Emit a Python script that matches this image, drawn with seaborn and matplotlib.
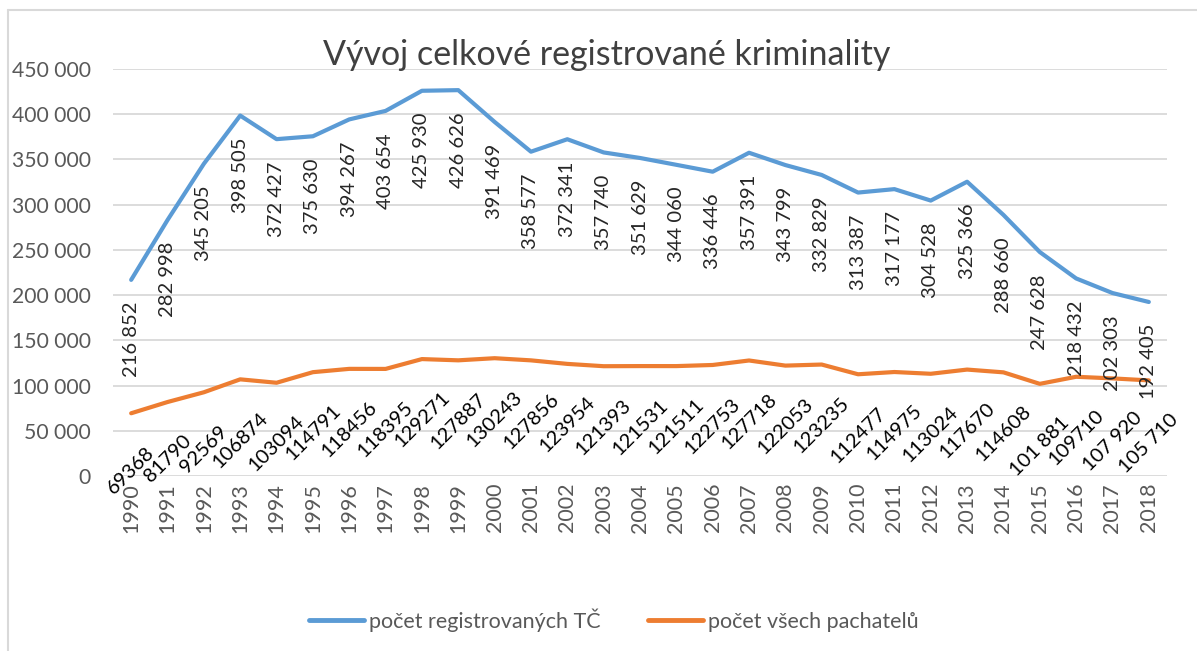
import pandas as pd
import seaborn as sns
import matplotlib.pyplot as plt
from matplotlib.lines import Line2D
from matplotlib.ticker import FuncFormatter

# --- data ---
years = list(range(1990, 2019))
trestne_ciny = [216852, 282998, 345205, 398505, 372427, 375630, 394267, 403654,
                425930, 426626, 391469, 358577, 372341, 357740, 351629, 344060,
                336446, 357391, 343799, 332829, 313387, 317177, 304528, 325366,
                288660, 247628, 218432, 202303, 192405]
pachatele = [69368, 81790, 92569, 106874, 103094, 114791, 118456, 118395,
             129271, 127887, 130243, 127856, 123954, 121393, 121531, 121511,
             122753, 127718, 122053, 123235, 112477, 114975, 113024, 117670,
             114608, 101881, 109710, 107920, 105710]
pachatele_labels = ['69368', '81790', '92569', '106874', '103094', '114791', '118456',
                    '118395', '129271', '127887', '130243', '127856', '123954', '121393',
                    '121531', '121511', '122753', '127718', '122053', '123235', '112477',
                    '114975', '113024', '117670', '114608', '101 881', '109710',
                    '107 920', '105 710']
series_names = ['počet registrovaných TČ', 'počet všech pachatelů']

df = pd.DataFrame({'rok': years, series_names[0]: trestne_ciny, series_names[1]: pachatele})
df_long = df.melt(id_vars='rok', var_name='serie', value_name='hodnota')

# --- styling ---
sns.set_style("white")
plt.rcParams['font.family'] = ['Lato', 'DejaVu Sans']
blue = '#5B9BD5'
orange = '#ED7D31'
gray_text = '#595959'

W, H = 1197, 651
fig = plt.figure(figsize=(W / 100, H / 100), dpi=100)
ax = fig.add_axes([113 / W, 1 - 476 / H, (1167 - 113) / W, (476 - 69) / H])

sns.lineplot(data=df_long, x='rok', y='hodnota', hue='serie', palette=[blue, orange],
             linewidth=3, ax=ax, legend=False)

ax.set_xlim(1989.5, 2018.5)
ax.set_ylim(0, 450000)
ax.set_yticks(range(0, 450001, 50000))
ax.yaxis.set_major_formatter(FuncFormatter(lambda v, p: f"{int(v):,}".replace(',', ' ')))
ax.set_xticks(years)
ax.set_xticklabels([str(y) for y in years], rotation=90)
ax.tick_params(axis='x', length=0, pad=5, labelsize=15.5, labelcolor=gray_text)
ax.tick_params(axis='y', length=0, pad=16, labelsize=15.2, labelcolor=gray_text)
ax.grid(axis='y', color='#D9D9D9', linewidth=1.3)
ax.set_axisbelow(True)
for s in ax.spines.values():
    s.set_visible(False)
ax.set_xlabel('')
ax.set_ylabel('')

# data labels
for x, v in zip(years, trestne_ciny):
    ax.annotate(f"{v:,}".replace(',', ' '), (x, v), xytext=(0, -22), textcoords='offset pixels',
                rotation=90, ha='center', va='top', fontsize=14.5, color='#262626')
for x, v, t in zip(years, pachatele, pachatele_labels):
    ax.annotate(t, (x, v), xytext=(0, -30), textcoords='offset pixels',
                rotation=45, ha='center', va='top', fontsize=14.5, color='black')

# title
fig.text(607 / W, 1 - 65 / H, 'Vývoj celkové registrované kriminality', ha='center',
         va='baseline', fontsize=24.5, color='#404040')

# legend
handles = [Line2D([], [], color=blue, linewidth=3.5), Line2D([], [], color=orange, linewidth=3.5)]
fig.legend(handles, series_names, loc='center', bbox_to_anchor=(614 / W, 1 - 620 / H), ncol=2,
           frameon=False, fontsize=15.5, labelcolor=gray_text, handlelength=2.55,
           handletextpad=0.25, columnspacing=2.2)

# chart frame
fig.add_artist(Line2D([8 / W, 8 / W], [0, 1 - 10 / H], color='#D9D9D9', linewidth=1.5))
fig.add_artist(Line2D([8 / W, 1], [1 - 10 / H, 1 - 10 / H], color='#D9D9D9', linewidth=1.5))

fig.savefig('out.png', dpi=100)
